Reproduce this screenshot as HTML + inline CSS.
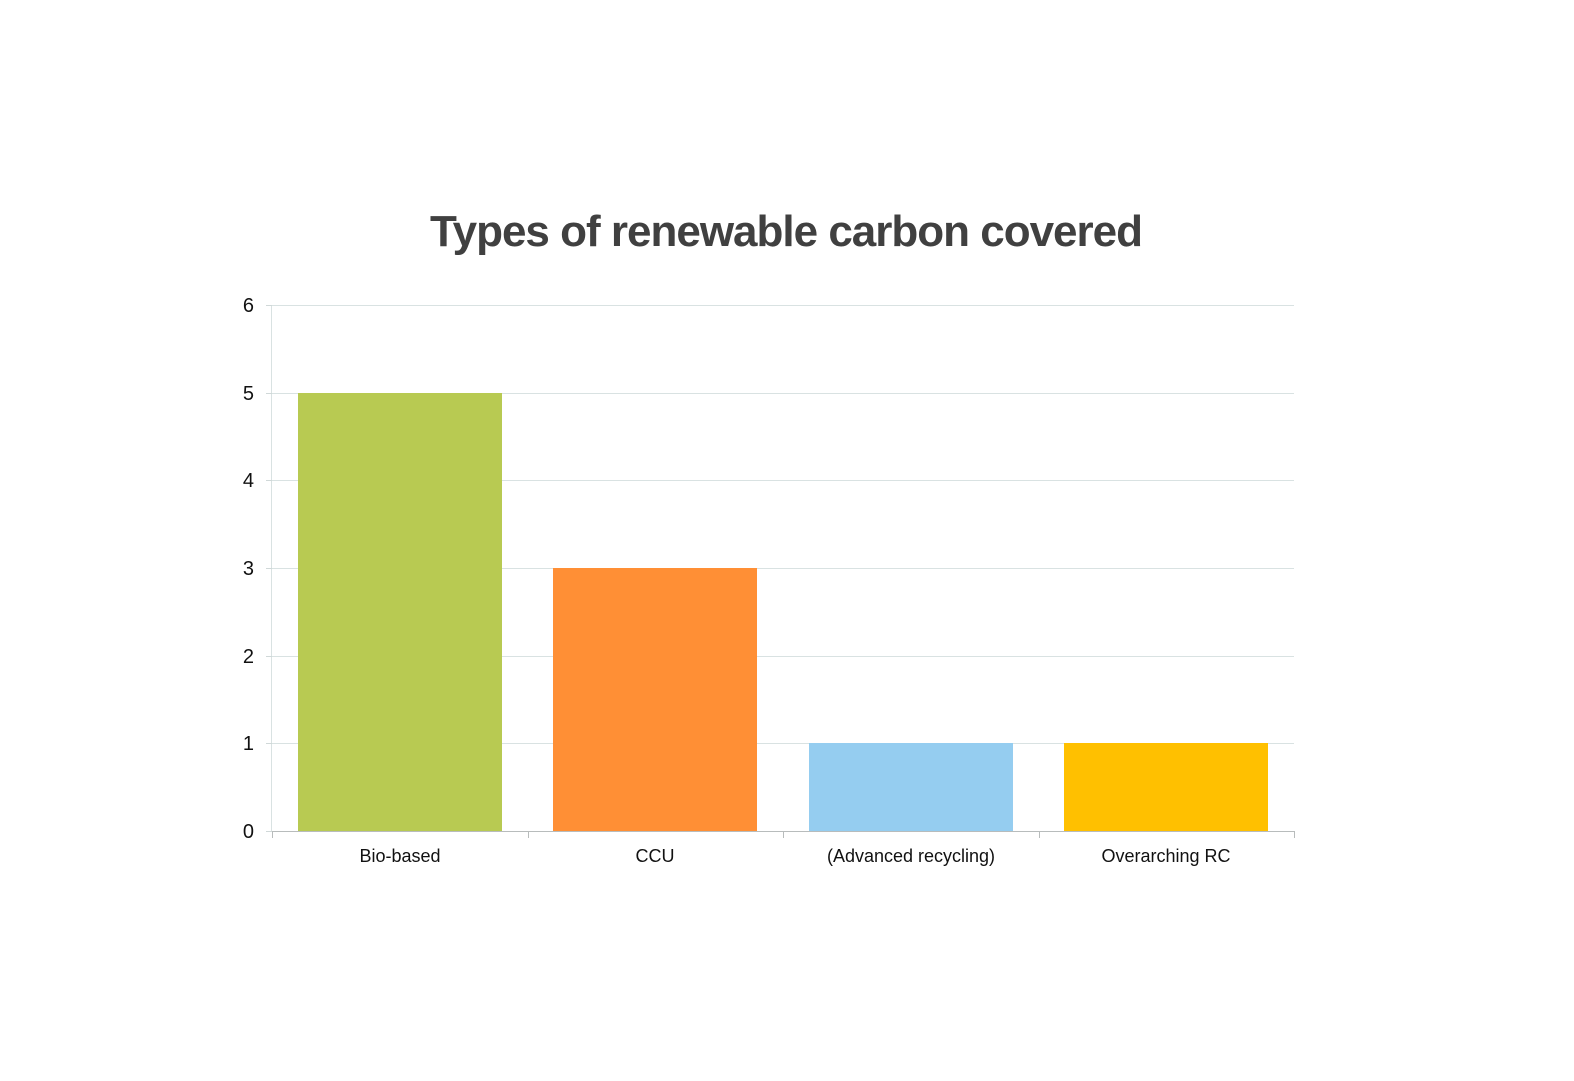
<!DOCTYPE html>
<html><head><meta charset="utf-8"><style>
html,body{margin:0;padding:0;background:#fff;}
</style></head><body>
<svg width="1574" height="1081" xmlns="http://www.w3.org/2000/svg" style="display:block">
<rect width="1574" height="1081" fill="#fff"/>
<text x="786" y="246" text-anchor="middle" font-family="Liberation Sans, sans-serif" font-weight="bold" font-size="44" fill="#404040" letter-spacing="-1">Types of renewable carbon covered</text>
<g stroke="#d9e2e2" stroke-width="1">
<line x1="272" y1="305.5" x2="1294" y2="305.5"/>
<line x1="272" y1="393.5" x2="1294" y2="393.5"/>
<line x1="272" y1="480.5" x2="1294" y2="480.5"/>
<line x1="272" y1="568.5" x2="1294" y2="568.5"/>
<line x1="272" y1="656.5" x2="1294" y2="656.5"/>
<line x1="272" y1="743.5" x2="1294" y2="743.5"/>
<line x1="271.5" y1="305" x2="271.5" y2="831"/>
</g>
<g stroke="#d0d8d8" stroke-width="1">
<line x1="266" y1="305.5" x2="272" y2="305.5"/>
<line x1="266" y1="393.5" x2="272" y2="393.5"/>
<line x1="266" y1="480.5" x2="272" y2="480.5"/>
<line x1="266" y1="568.5" x2="272" y2="568.5"/>
<line x1="266" y1="656.5" x2="272" y2="656.5"/>
<line x1="266" y1="743.5" x2="272" y2="743.5"/>
<line x1="266" y1="831.5" x2="272" y2="831.5"/>
</g>
<rect x="298" y="393" width="204" height="438" fill="#b8ca52"/>
<rect x="553" y="568" width="204" height="263" fill="#ff8f35"/>
<rect x="809" y="743" width="204" height="88" fill="#95cdf0"/>
<rect x="1064" y="743" width="204" height="88" fill="#ffc000"/>
<g stroke="#b8bcbc" stroke-width="1">
<line x1="272" y1="831.5" x2="1294" y2="831.5"/>
<line x1="272.5" y1="831" x2="272.5" y2="838"/>
<line x1="528.5" y1="831" x2="528.5" y2="838"/>
<line x1="783.5" y1="831" x2="783.5" y2="838"/>
<line x1="1039.5" y1="831" x2="1039.5" y2="838"/>
<line x1="1294.5" y1="831" x2="1294.5" y2="838"/>
</g>
<g font-family="Liberation Sans, sans-serif" font-size="20" fill="#111" text-anchor="end">
<text x="254" y="312">6</text>
<text x="254" y="400">5</text>
<text x="254" y="487">4</text>
<text x="254" y="575">3</text>
<text x="254" y="663">2</text>
<text x="254" y="750">1</text>
<text x="254" y="838">0</text>
</g>
<g font-family="Liberation Sans, sans-serif" font-size="18" fill="#111" text-anchor="middle">
<text x="400" y="862">Bio-based</text>
<text x="655" y="862">CCU</text>
<text x="911" y="862">(Advanced recycling)</text>
<text x="1166" y="862">Overarching RC</text>
</g>
</svg>
</body></html>
